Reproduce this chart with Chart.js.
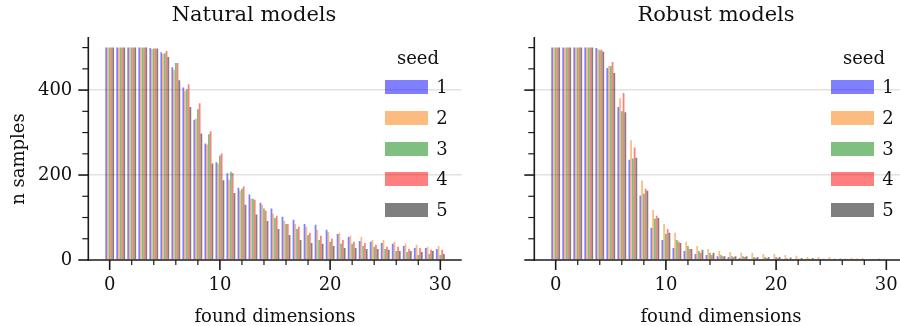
<!DOCTYPE html>
<html><head><meta charset="utf-8">
<script src="https://cdn.jsdelivr.net/npm/chart.js@4.4.0/dist/chart.umd.min.js"></script>
<style>
html,body{margin:0;padding:0;width:900px;height:326px;overflow:hidden;background:#fff;}
#wrap{position:relative;width:900px;height:326px;overflow:hidden;font-family:"DejaVu Serif",serif;color:#111;}
canvas{position:absolute;top:0;}
.t{position:absolute;white-space:nowrap;}
</style></head><body><div id="wrap">
<canvas id="c1" width="470" height="326" style="left:0px"></canvas>
<canvas id="c2" width="470" height="326" style="left:446px"></canvas>
</div>
<script>
// ---- data ----
const categories = [0,1,2,3,4,5,6,7,8,9,10,11,12,13,14,15,16,17,18,19,20,21,22,23,24,25,26,27,28,29,30];
const seeds = ['1','2','3','4','5'];
const naturalSeed1 = [500,500,500,500,499,489,454,406,330,274,230,204,170,154,135,121,102,95,85,83,71,61,54,45,43,40,38,33,28,28,26];
const naturalSeed2 = [500,500,500,500,497,485,448,398,333,272,227,189,163,144,130,109,92,85,78,71,66,64,57,54,47,47,43,38,36,31,33];
const naturalSeed3 = [500,500,500,500,498,487,464,402,355,296,246,208,168,144,121,99,85,73,59,47,43,38,38,33,31,26,21,19,12,14,12];
const naturalSeed4 = [500,500,500,500,498,492,464,414,369,303,251,205,173,142,116,104,85,78,64,57,50,47,43,40,36,31,31,26,28,24,24];
const naturalSeed5 = [500,500,500,500,498,478,423,360,298,227,188,158,130,107,92,73,59,47,40,38,33,28,28,26,26,24,21,21,19,21,14];
const robustSeed1 = [500,500,500,500,499,452,360,236,152,76,47,28,21,14,12,9,7,5,2,2,2,1,1,1,1,0,0,0,0,0,0];
const robustSeed2 = [500,500,500,500,497,457,381,282,187,118,85,64,43,33,26,21,19,17,17,14,14,12,10,7,7,7,5,5,5,3,3];
const robustSeed3 = [500,500,500,500,494,457,350,239,156,97,62,47,33,21,17,12,9,9,7,7,7,4,3,3,3,2,2,1,1,1,1];
const robustSeed4 = [500,500,500,500,495,466,393,265,168,104,73,43,26,17,12,9,7,7,5,5,5,2,1,1,1,1,1,1,0,0,0];
const robustSeed5 = [500,500,500,500,490,440,348,241,163,99,64,40,26,24,17,9,9,9,7,7,7,6,5,5,3,3,3,3,2,3,2];
const xTickLabels = [0,10,20,30];
const yTickLabels = [0,200,400];
const panelTitles = ['Natural models','Robust models'];
const xAxisTitle = 'found dimensions';
const yAxisTitle = 'n samples';
const legendTitle = 'seed';

// ---- styles ----
const seedColors = ['rgba(0,0,255,0.5)','rgba(250,120,0,0.5)','rgba(0,128,0,0.5)','rgba(255,0,0,0.5)','rgba(0,0,0,0.5)'];
const FONT = '"DejaVu Serif", serif';
const X_MIN = -1.94, X_MAX = 31.94, Y_MAX = 525;
const X_MINOR_STEP = 2, Y_MINOR_STEP = 50;

const mplAxes = {
  id: 'mplAxes',
  afterDatasetsDraw(chart) {
    const {ctx, chartArea: a, scales: {x, y}} = chart;
    ctx.save();
    ctx.strokeStyle = '#1a1a1a';
    const line = (x1, y1, x2, y2, w) => { ctx.lineWidth = w; ctx.beginPath(); ctx.moveTo(x1, y1); ctx.lineTo(x2, y2); ctx.stroke(); };
    for (let v = Math.ceil(x.min / X_MINOR_STEP) * X_MINOR_STEP; v <= x.max; v += X_MINOR_STEP) {
      if (xTickLabels.includes(v)) continue;
      const px = x.getPixelForValue(v); line(px, a.bottom, px, a.bottom + 5, 1.2);
    }
    xTickLabels.forEach(v => { const px = x.getPixelForValue(v); line(px, a.bottom, px, a.bottom + 10, 1.6); });
    for (let v = 0; v <= y.max; v += Y_MINOR_STEP) {
      if (yTickLabels.includes(v)) continue;
      const py = y.getPixelForValue(v); line(a.left - 6, py, a.left, py, 1.2);
    }
    yTickLabels.forEach(v => { const py = y.getPixelForValue(v); line(a.left - 10, py, a.left, py, 1.6); });
    line(a.left, a.top, a.left, a.bottom + 0.8, 1.6);
    line(a.left - 0.8, a.bottom, a.right, a.bottom, 1.6);
    ctx.restore();
  }
};

function makeChart(id, series, showYLabels) {
  const datasets = series.map((vals, i) => ({
    label: seeds[i],
    data: categories.map((c, j) => ({x: c, y: vals[j]})),
    backgroundColor: seedColors[i],
    borderWidth: 0,
    inflateAmount: 0,
    categoryPercentage: 0.8,
    barPercentage: 1.0
  }));
  return new Chart(document.getElementById(id), {
    type: 'bar',
    data: {datasets},
    plugins: [mplAxes],
    options: {
      responsive: false, animation: false, devicePixelRatio: 1,
      layout: {padding: {left: 0, right: 8.3, top: 37, bottom: 0}},
      plugins: {legend: {display: false}, title: {display: false}, tooltip: {enabled: false}},
      scales: {
        x: {
          type: 'linear', min: X_MIN, max: X_MAX, bounds: 'data', offset: false,
          afterBuildTicks: s => { s.ticks = xTickLabels.map(v => ({value: v})); },
          afterFit: s => { s.height = 66; },
          grid: {display: false, offset: false, drawTicks: false},
          border: {display: false},
          ticks: {padding: 15, color: '#111', font: {family: FONT, size: 18}, maxRotation: 0, callback: v => String(v)},
          title: {display: true, text: xAxisTitle, color: '#111', font: {family: FONT, size: 18, lineHeight: 1.0}, padding: {top: 0, bottom: 0}}
        },
        y: {
          type: 'linear', min: 0, max: Y_MAX, bounds: 'data',
          afterBuildTicks: s => { s.ticks = yTickLabels.map(v => ({value: v})); },
          afterFit: s => { s.width = 88.3; },
          grid: {drawTicks: false, lineWidth: 1.4, color: c => (c.tick && c.tick.value !== 0) ? '#e2e2e2' : 'rgba(0,0,0,0)'},
          border: {display: false},
          ticks: {padding: 16, color: '#111', font: {family: FONT, size: 18}, callback: v => showYLabels ? String(v) : ''}
        }
      }
    }
  });
}

makeChart('c1', [naturalSeed1, naturalSeed2, naturalSeed3, naturalSeed4, naturalSeed5], true);
makeChart('c2', [robustSeed1, robustSeed2, robustSeed3, robustSeed4, robustSeed5], false);

// ---- HTML text: titles, y label, legends ----
const wrap = document.getElementById('wrap');
function addText(txt, css) {
  const d = document.createElement('div'); d.className = 't'; d.textContent = txt;
  Object.assign(d.style, css); wrap.appendChild(d); return d;
}
const titleCenters = [254, 716];
panelTitles.forEach((t, i) => addText(t, {left: (titleCenters[i] - 150) + 'px', width: '300px', top: '2px', fontSize: '21px', lineHeight: '24px', textAlign: 'center'}));
addText(yAxisTitle, {left: (17.5 - 100) + 'px', top: (159 - 11) + 'px', width: '200px', height: '22px', fontSize: '18px', lineHeight: '22px', textAlign: 'center', transform: 'rotate(-90deg)'});

function addLegend(dx) {
  addText(legendTitle, {left: (418 + dx - 50) + 'px', width: '100px', top: '47px', fontSize: '18px', lineHeight: '22px', textAlign: 'center'});
  seeds.forEach((s, i) => {
    const top = 80 + i * 30.75;
    const b = document.createElement('div');
    Object.assign(b.style, {position: 'absolute', left: (385 + dx) + 'px', top: top + 'px', width: '43px', height: '14px', background: seedColors[i]});
    wrap.appendChild(b);
    addText(s, {left: (434 + dx) + 'px', width: '16px', top: top + 'px', height: '14px', fontSize: '18px', lineHeight: '14px', textAlign: 'center'});
  });
}
addLegend(0);
addLegend(446);
</script></body></html>
